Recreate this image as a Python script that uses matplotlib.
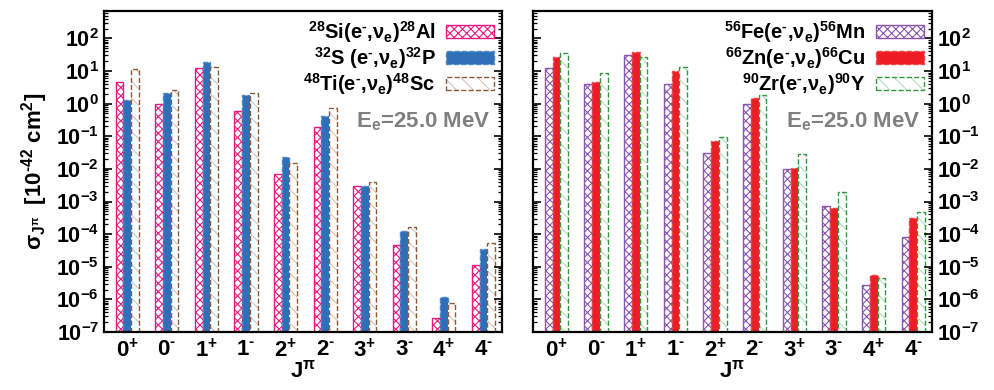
import matplotlib
matplotlib.use("Agg")
import matplotlib.pyplot as plt
import numpy as np

plt.rcParams['font.family'] = ['Liberation Sans', 'DejaVu Sans']
plt.rcParams['font.weight'] = 'bold'
plt.rcParams['mathtext.fontset'] = 'custom'
plt.rcParams['mathtext.rm'] = 'Liberation Sans:bold'
plt.rcParams['mathtext.bf'] = 'Liberation Sans:bold'
plt.rcParams['mathtext.it'] = 'Liberation Sans:bold:italic'
plt.rcParams['mathtext.default'] = 'rm'
plt.rcParams['hatch.linewidth'] = 0.8

H = "\u2010"
categories = ["0$^{+}$", "0$^{" + H + "}$", "1$^{+}$", "1$^{" + H + "}$", "2$^{+}$",
              "2$^{" + H + "}$", "3$^{+}$", "3$^{" + H + "}$", "4$^{+}$", "4$^{" + H + "}$"]

# Left panel
si28 = [4.7, 1.01, 12.0, 0.59, 0.0070, 0.19, 0.0029, 4.5e-5, 1.6e-7, 1.1e-5]
s32 = [1.28, 2.1, 18.4, 1.9, 0.0224, 0.42, 0.0029, 1.23e-4, 1.06e-6, 3.5e-5]
ti48 = [11.2, 2.7, 13.2, 2.05, 0.0147, 0.71, 0.0040, 1.6e-4, 6.6e-7, 5.4e-5]

# Right panel
fe56 = [12.0, 3.9, 30.0, 4.0, 0.030, 0.97, 0.0098, 7.3e-4, 2.7e-6, 7.9e-5]
zn66 = [26.0, 4.5, 38.0, 9.7, 0.070, 1.44, 0.011, 6.4e-4, 5.4e-6, 3.1e-4]
zr90 = [35.0, 8.6, 26.0, 13.2, 0.092, 1.86, 0.0277, 1.97e-3, 4.3e-6, 4.7e-4]

labels_left = [r"$^{28}$Si(e$^{" + H + r"}$,$\nu_{e}$)$^{28}$Al",
               r"$^{32}$S (e$^{" + H + r"}$,$\nu_{e}$)$^{32}$P",
               r"$^{48}$Ti(e$^{" + H + r"}$,$\nu_{e}$)$^{48}$Sc"]
labels_right = [r"$^{56}$Fe(e$^{" + H + r"}$,$\nu_{e}$)$^{56}$Mn",
                r"$^{66}$Zn(e$^{" + H + r"}$,$\nu_{e}$)$^{66}$Cu",
                r"$^{90}$Zr(e$^{" + H + r"}$,$\nu_{e}$)$^{90}$Y"]

fig = plt.figure(figsize=(9.94, 3.9), dpi=100)
axL = fig.add_axes([104/994, 1-332/390, 398/994, 321/390])
axR = fig.add_axes([533/994, 1-332/390, 399/994, 321/390])

x = np.arange(len(categories))
w = 0.195

styles_left = [
    dict(facecolor='white', edgecolor='#e8197f', hatch='xxxx', linestyle='-', linewidth=1.0),
    dict(facecolor='#2e6fb7', edgecolor='#4a86c8', hatch=None, linestyle='--', linewidth=1.0),
    dict(facecolor='white', edgecolor='#8a5a3a', hatch='\\\\', linestyle='--', linewidth=1.0,
         hatchcol='#d9c3b3'),
]
styles_right = [
    dict(facecolor='white', edgecolor='#8d55b0', hatch='xxxx', linestyle='-', linewidth=1.0),
    dict(facecolor='#ee1c25', edgecolor='#f04048', hatch=None, linestyle='--', linewidth=1.0),
    dict(facecolor='white', edgecolor='#2e9a3e', hatch='\\\\', linestyle='--', linewidth=1.0,
         hatchcol='#b5dcb9'),
]

def draw(ax, series, styles, labels):
    handles = []
    for i, (vals, st, lab) in enumerate(zip(series, styles, labels)):
        st = dict(st)
        hc = st.pop('hatchcol', None)
        pos = x + (i - 1) * w
        if hc is not None:
            b0 = ax.bar(pos, vals, width=w, bottom=1e-7, facecolor='white', edgecolor=hc,
                        hatch=st['hatch'], linewidth=0)
            b1 = ax.bar(pos, vals, width=w, bottom=1e-7, fill=False, edgecolor=st['edgecolor'],
                        linestyle=st['linestyle'], linewidth=st['linewidth'])
            handles.append((b0, b1))
        else:
            b = ax.bar(pos, vals, width=w, bottom=1e-7, **st)
            handles.append(b)
    ax.set_yscale('log')
    ax.set_ylim(1e-7, 10**2.84)
    ax.set_xlim(-0.59, 9.47)
    ax.set_xticks(x)
    ax.set_xticklabels(categories, fontsize=16, fontweight='bold')
    ax.tick_params(axis='x', length=0, pad=5)
    ax.tick_params(axis='y', which='both', direction='in', left=True, right=True)
    ax.tick_params(axis='y', which='major', length=6, width=1.2, labelsize=15.5)
    ax.tick_params(axis='y', which='minor', length=3, width=0.9)
    ax.yaxis.set_major_locator(matplotlib.ticker.LogLocator(base=10, numticks=20))
    ax.yaxis.set_minor_locator(matplotlib.ticker.LogLocator(base=10, subs=np.arange(2, 10), numticks=20))
    for s in ax.spines.values():
        s.set_linewidth(1.6)
    ax.set_xlabel(r"J$^{\pi}$", fontsize=16, fontweight='bold', labelpad=-1)
    ax.legend(handles=handles, labels=labels, loc='upper right', markerfirst=False, frameon=False,
              fontsize=14.5, handlelength=2.4, handleheight=0.6, labelspacing=0.0,
              borderaxespad=0.2, handletextpad=0.5, borderpad=0.2)
    ax.text(0.97, 0.655, r"E$_{e}$=25.0 MeV", transform=ax.transAxes, ha='right', va='center',
            fontsize=16, fontweight='bold', color='#808080')

draw(axL, [si28, s32, ti48], styles_left, labels_left)
draw(axR, [fe56, zn66, zr90], styles_right, labels_right)

axL.set_ylabel(r"$\sigma_{J^{\pi}}$  [10$^{" + H + r"42}$ cm$^{2}$]", fontsize=16, fontweight='bold', labelpad=4)
axR.tick_params(axis='y', which='both', labelleft=False, labelright=True)

fig.savefig("out.png", dpi=100)
